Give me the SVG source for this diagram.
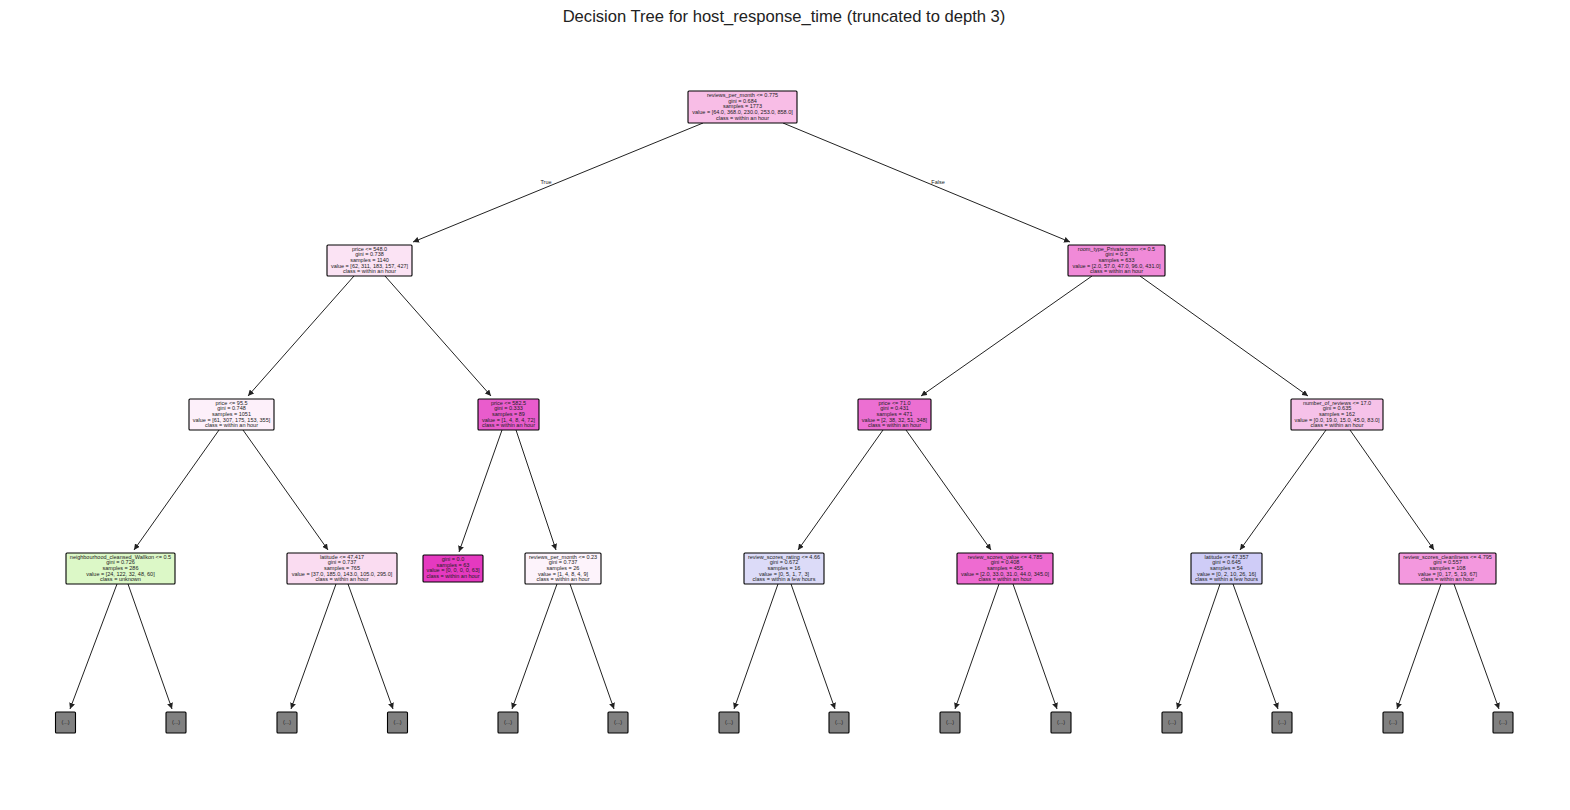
<svg xmlns="http://www.w3.org/2000/svg" width="1570" height="810" viewBox="0 0 1570 810">
<defs>
<marker id="ah" viewBox="0 0 10 10" refX="10" refY="5" markerWidth="6" markerHeight="6" orient="auto" markerUnits="userSpaceOnUse">
<path d="M0,0 L10,5 L0,10 Z" fill="#222"/>
</marker>
<style>
.box{stroke:#000;stroke-width:1.1}
.t{font-family:"Liberation Sans",Arial,sans-serif;font-size:5.5px;fill:#222;text-anchor:middle}
.title{font-family:"Liberation Sans",Arial,sans-serif;font-size:16.6px;fill:#222;text-anchor:middle}
.lbl{font-family:"Liberation Sans",Arial,sans-serif;font-size:5.5px;fill:#222;text-anchor:middle}
.e{stroke:#222;stroke-width:1;fill:none;marker-end:url(#ah)}
.leaf{fill:#808080;stroke:#000;stroke-width:1.1}
</style>
</defs>
<rect width="1570" height="810" fill="#fff"/>
<text class="title" x="784" y="22">Decision Tree for host_response_time (truncated to depth 3)</text>

<g id="edges">
<line class="e" x1="703" y1="123" x2="413" y2="242"/>
<line class="e" x1="783" y1="123" x2="1070" y2="242"/>
<line class="e" x1="354" y1="276" x2="248" y2="396"/>
<line class="e" x1="385" y1="276" x2="491" y2="396"/>
<line class="e" x1="1092" y1="276" x2="921" y2="396"/>
<line class="e" x1="1140" y1="276" x2="1308" y2="396"/>
<line class="e" x1="219" y1="430" x2="134" y2="550"/>
<line class="e" x1="243" y1="430" x2="328" y2="550"/>
<line class="e" x1="502" y1="430" x2="459" y2="552"/>
<line class="e" x1="516" y1="430" x2="556" y2="550"/>
<line class="e" x1="883" y1="430" x2="798" y2="550"/>
<line class="e" x1="906" y1="430" x2="991" y2="550"/>
<line class="e" x1="1326" y1="430" x2="1240" y2="550"/>
<line class="e" x1="1350" y1="430" x2="1434" y2="550"/>
<line class="e" x1="117" y1="584" x2="70" y2="709"/>
<line class="e" x1="128" y1="584" x2="172" y2="709"/>
<line class="e" x1="336" y1="584" x2="291" y2="709"/>
<line class="e" x1="348" y1="584" x2="393" y2="709"/>
<line class="e" x1="557" y1="584" x2="512" y2="709"/>
<line class="e" x1="570" y1="584" x2="614" y2="709"/>
<line class="e" x1="778" y1="584" x2="734" y2="709"/>
<line class="e" x1="791" y1="584" x2="835" y2="709"/>
<line class="e" x1="999" y1="584" x2="955" y2="709"/>
<line class="e" x1="1013" y1="584" x2="1057" y2="709"/>
<line class="e" x1="1220" y1="584" x2="1177" y2="709"/>
<line class="e" x1="1233" y1="584" x2="1278" y2="709"/>
<line class="e" x1="1441" y1="584" x2="1397" y2="709"/>
<line class="e" x1="1454" y1="584" x2="1499" y2="709"/>
<text class="lbl" x="546" y="184">True</text>
<text class="lbl" x="938" y="184">False</text>
</g>

<g id="n0">
<rect class="box" x="688" y="91" width="109" height="32" rx="1" fill="#f8bde6"/>
<text class="t" x="742.5" y="97">reviews_per_month &lt;= 0.775</text>
<text class="t" x="742.5" y="102.7">gini = 0.684</text>
<text class="t" x="742.5" y="108.4">samples = 1773</text>
<text class="t" x="742.5" y="114.1">value = [64.0, 368.0, 230.0, 253.0, 858.0]</text>
<text class="t" x="742.5" y="119.8">class = within an hour</text>
</g>

<g id="n1">
<rect class="box" x="327" y="245" width="85" height="31" rx="1" fill="#fbe3f4"/>
<text class="t" x="369.5" y="250.6">price &lt;= 548.0</text>
<text class="t" x="369.5" y="256.3">gini = 0.738</text>
<text class="t" x="369.5" y="262">samples = 1140</text>
<text class="t" x="369.5" y="267.7">value = [62, 311, 183, 157, 427]</text>
<text class="t" x="369.5" y="273.4">class = within an hour</text>
</g>

<g id="n2">
<rect class="box" x="1068" y="245" width="97" height="31" rx="1" fill="#f08ad8"/>
<text class="t" x="1116.5" y="250.6">room_type_Private room &lt;= 0.5</text>
<text class="t" x="1116.5" y="256.3">gini = 0.5</text>
<text class="t" x="1116.5" y="262">samples = 633</text>
<text class="t" x="1116.5" y="267.7">value = [2.0, 57.0, 47.0, 96.0, 431.0]</text>
<text class="t" x="1116.5" y="273.4">class = within an hour</text>
</g>

<g id="n3">
<rect class="box" x="189" y="399" width="85" height="31" rx="1" fill="#fdf0fa"/>
<text class="t" x="231.5" y="404.6">price &lt;= 95.5</text>
<text class="t" x="231.5" y="410.3">gini = 0.748</text>
<text class="t" x="231.5" y="416">samples = 1051</text>
<text class="t" x="231.5" y="421.7">value = [61, 307, 175, 153, 355]</text>
<text class="t" x="231.5" y="427.4">class = within an hour</text>
</g>

<g id="n4">
<rect class="box" x="478" y="399" width="61" height="31" rx="1" fill="#e95ccc"/>
<text class="t" x="508.5" y="404.6">price &lt;= 582.5</text>
<text class="t" x="508.5" y="410.3">gini = 0.333</text>
<text class="t" x="508.5" y="416">samples = 89</text>
<text class="t" x="508.5" y="421.7">value = [1, 4, 8, 4, 72]</text>
<text class="t" x="508.5" y="427.4">class = within an hour</text>
</g>

<g id="n5">
<rect class="box" x="858" y="399" width="73" height="31" rx="1" fill="#ec6fd2"/>
<text class="t" x="894.5" y="404.6">price &lt;= 71.0</text>
<text class="t" x="894.5" y="410.3">gini = 0.431</text>
<text class="t" x="894.5" y="416">samples = 471</text>
<text class="t" x="894.5" y="421.7">value = [2, 38, 32, 51, 348]</text>
<text class="t" x="894.5" y="427.4">class = within an hour</text>
</g>

<g id="n6">
<rect class="box" x="1291" y="399" width="92" height="31" rx="1" fill="#f6c2e9"/>
<text class="t" x="1337" y="404.6">number_of_reviews &lt;= 17.0</text>
<text class="t" x="1337" y="410.3">gini = 0.635</text>
<text class="t" x="1337" y="416">samples = 162</text>
<text class="t" x="1337" y="421.7">value = [0.0, 19.0, 15.0, 45.0, 83.0]</text>
<text class="t" x="1337" y="427.4">class = within an hour</text>
</g>

<g id="n7">
<rect class="box" x="66" y="553" width="109" height="31" rx="1" fill="#dcf8c7"/>
<text class="t" x="120.5" y="558.6">neighbourhood_cleansed_Wallkon &lt;= 0.5</text>
<text class="t" x="120.5" y="564.3">gini = 0.726</text>
<text class="t" x="120.5" y="570">samples = 286</text>
<text class="t" x="120.5" y="575.7">value = [24, 122, 32, 48, 60]</text>
<text class="t" x="120.5" y="581.4">class = unknown</text>
</g>

<g id="n8">
<rect class="box" x="287" y="553" width="110" height="31" rx="1" fill="#fadcf1"/>
<text class="t" x="342" y="558.6">latitude &lt;= 47.417</text>
<text class="t" x="342" y="564.3">gini = 0.737</text>
<text class="t" x="342" y="570">samples = 765</text>
<text class="t" x="342" y="575.7">value = [37.0, 185.0, 143.0, 105.0, 295.0]</text>
<text class="t" x="342" y="581.4">class = within an hour</text>
</g>

<g id="n9">
<rect class="box" x="423" y="555" width="60" height="27" rx="1" fill="#e539c0"/>
<text class="t" x="453" y="560.8">gini = 0.0</text>
<text class="t" x="453" y="566.5">samples = 63</text>
<text class="t" x="453" y="572.2">value = [0, 0, 0, 0, 63]</text>
<text class="t" x="453" y="577.9">class = within an hour</text>
</g>

<g id="n10">
<rect class="box" x="525" y="553" width="76" height="31" rx="1" fill="#fdf3fb"/>
<text class="t" x="563" y="558.6">reviews_per_month &lt;= 0.23</text>
<text class="t" x="563" y="564.3">gini = 0.737</text>
<text class="t" x="563" y="570">samples = 26</text>
<text class="t" x="563" y="575.7">value = [1, 4, 8, 4, 9]</text>
<text class="t" x="563" y="581.4">class = within an hour</text>
</g>

<g id="n11">
<rect class="box" x="744" y="553" width="80" height="31" rx="1" fill="#dcdbf8"/>
<text class="t" x="784" y="558.6">review_scores_rating &lt;= 4.66</text>
<text class="t" x="784" y="564.3">gini = 0.672</text>
<text class="t" x="784" y="570">samples = 16</text>
<text class="t" x="784" y="575.7">value = [0, 5, 1, 7, 3]</text>
<text class="t" x="784" y="581.4">class = within a few hours</text>
</g>

<g id="n12">
<rect class="box" x="957" y="553" width="96" height="31" rx="1" fill="#ee6bd1"/>
<text class="t" x="1005" y="558.6">review_scores_value &lt;= 4.785</text>
<text class="t" x="1005" y="564.3">gini = 0.408</text>
<text class="t" x="1005" y="570">samples = 455</text>
<text class="t" x="1005" y="575.7">value = [2.0, 33.0, 31.0, 44.0, 345.0]</text>
<text class="t" x="1005" y="581.4">class = within an hour</text>
</g>

<g id="n13">
<rect class="box" x="1191" y="553" width="71" height="31" rx="1" fill="#cfccf7"/>
<text class="t" x="1226.5" y="558.6">latitude &lt;= 47.357</text>
<text class="t" x="1226.5" y="564.3">gini = 0.645</text>
<text class="t" x="1226.5" y="570">samples = 54</text>
<text class="t" x="1226.5" y="575.7">value = [0, 2, 10, 26, 16]</text>
<text class="t" x="1226.5" y="581.4">class = within a few hours</text>
</g>

<g id="n14">
<rect class="box" x="1399" y="553" width="97" height="31" rx="1" fill="#f398de"/>
<text class="t" x="1447.5" y="558.6">review_scores_cleanliness &lt;= 4.795</text>
<text class="t" x="1447.5" y="564.3">gini = 0.557</text>
<text class="t" x="1447.5" y="570">samples = 108</text>
<text class="t" x="1447.5" y="575.7">value = [0, 17, 5, 19, 67]</text>
<text class="t" x="1447.5" y="581.4">class = within an hour</text>
</g>

<g id="l1"><rect class="leaf" x="55.5" y="712" width="20" height="21" rx="1"/><text class="t" x="65.5" y="724">(...)</text></g>
<g id="l2"><rect class="leaf" x="166" y="712" width="20" height="21" rx="1"/><text class="t" x="176" y="724">(...)</text></g>
<g id="l3"><rect class="leaf" x="277" y="712" width="20" height="21" rx="1"/><text class="t" x="287" y="724">(...)</text></g>
<g id="l4"><rect class="leaf" x="387.5" y="712" width="20" height="21" rx="1"/><text class="t" x="397.5" y="724">(...)</text></g>
<g id="l5"><rect class="leaf" x="498" y="712" width="20" height="21" rx="1"/><text class="t" x="508" y="724">(...)</text></g>
<g id="l6"><rect class="leaf" x="608" y="712" width="20" height="21" rx="1"/><text class="t" x="618" y="724">(...)</text></g>
<g id="l7"><rect class="leaf" x="719" y="712" width="20" height="21" rx="1"/><text class="t" x="729" y="724">(...)</text></g>
<g id="l8"><rect class="leaf" x="829" y="712" width="20" height="21" rx="1"/><text class="t" x="839" y="724">(...)</text></g>
<g id="l9"><rect class="leaf" x="940" y="712" width="20" height="21" rx="1"/><text class="t" x="950" y="724">(...)</text></g>
<g id="l10"><rect class="leaf" x="1051" y="712" width="20" height="21" rx="1"/><text class="t" x="1061" y="724">(...)</text></g>
<g id="l11"><rect class="leaf" x="1162" y="712" width="20" height="21" rx="1"/><text class="t" x="1172" y="724">(...)</text></g>
<g id="l12"><rect class="leaf" x="1272" y="712" width="20" height="21" rx="1"/><text class="t" x="1282" y="724">(...)</text></g>
<g id="l13"><rect class="leaf" x="1383" y="712" width="20" height="21" rx="1"/><text class="t" x="1393" y="724">(...)</text></g>
<g id="l14"><rect class="leaf" x="1493" y="712" width="20" height="21" rx="1"/><text class="t" x="1503" y="724">(...)</text></g>
</svg>
